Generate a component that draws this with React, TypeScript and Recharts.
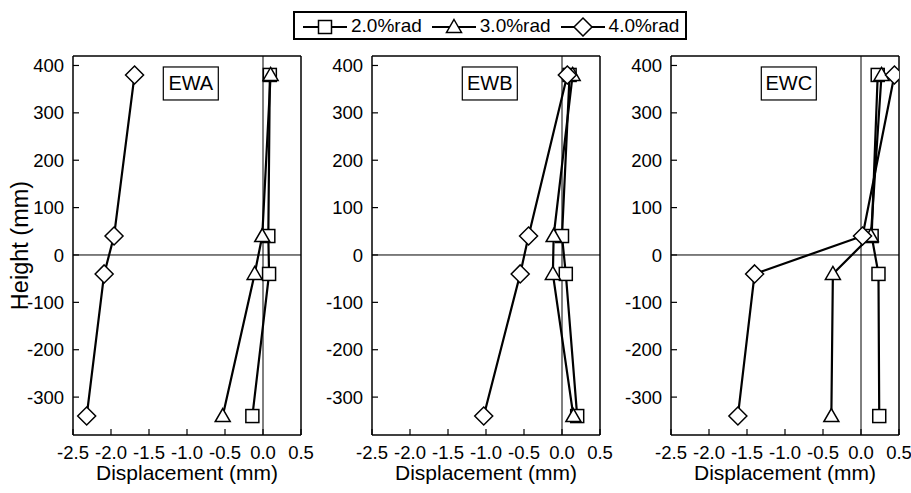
import React from 'react';
import { ScatterChart, Scatter, XAxis, YAxis, ReferenceLine, ReferenceDot } from 'recharts';

// heights of the measuring points (mm), top to bottom
const HEIGHTS = [380, 40, -40, -340];
const SPECIMENS = ['EWA', 'EWB', 'EWC'];
const SERIES = ['2.0%rad', '3.0%rad', '4.0%rad'];
const X_TICKS = [-2.5, -2, -1.5, -1, -0.5, 0, 0.5];
const Y_TICKS = [-300, -200, -100, 0, 100, 200, 300, 400];

// displacement (mm) at each height
const EWA_20 = [0.09, 0.07, 0.08, -0.14];
const EWA_30 = [0.1, -0.01, -0.11, -0.53];
const EWA_40 = [-1.69, -1.96, -2.09, -2.32];

const EWB_20 = [0.1, 0.0, 0.05, 0.2];
const EWB_30 = [0.14, -0.11, -0.12, 0.15];
const EWB_40 = [0.07, -0.44, -0.55, -1.03];

const EWC_20 = [0.22, 0.14, 0.23, 0.24];
const EWC_30 = [0.27, 0.13, -0.37, -0.39];
const EWC_40 = [0.44, 0.02, -1.4, -1.62];

const PANEL_DATA = [
  [EWA_20, EWA_30, EWA_40],
  [EWB_20, EWB_30, EWB_40],
  [EWC_20, EWC_30, EWC_40],
];

const FONT = '"Liberation Sans", Arial, sans-serif';
const PANEL_LEFT = [0, 299, 598];

const Square = ({ cx, cy }: any) => (
  <rect x={cx - 6.5} y={cy - 6.5} width={13} height={13} fill="#fff" stroke="#000" strokeWidth={1.5} />
);
const Triangle = ({ cx, cy }: any) => (
  <path d={`M${cx},${cy - 7.5}L${cx + 7.5},${cy + 5.5}L${cx - 7.5},${cy + 5.5}Z`} fill="#fff" stroke="#000" strokeWidth={1.5} />
);
const Diamond = ({ cx, cy }: any) => (
  <path d={`M${cx},${cy - 9}L${cx + 9},${cy}L${cx},${cy + 9}L${cx - 9},${cy}Z`} fill="#fff" stroke="#000" strokeWidth={1.5} />
);
const SHAPES = [Square, Triangle, Diamond];

const toPoints = (vals: number[]) => HEIGHTS.map((h, i) => ({ x: vals[i], y: h }));

const Panel = ({ idx }: { idx: number }) => {
  const name = SPECIMENS[idx];
  const tickStyle = { fontSize: 18.5, fill: '#000', fontFamily: FONT };
  const axisLine = { stroke: '#000', strokeWidth: 1.5 };
  const tickLine = { stroke: '#000', strokeWidth: 1.2 };
  return (
    <div style={{ position: 'absolute', left: PANEL_LEFT[idx], top: 0 }}>
      <ScatterChart width={322} height={493} margin={{ top: 55, right: 20, left: 10, bottom: 3 }}>
        <XAxis
          type="number"
          dataKey="x"
          domain={[-2.5, 0.5]}
          ticks={X_TICKS}
          interval={0}
          allowDataOverflow
          tickFormatter={(v: number) => v.toFixed(1)}
          tick={tickStyle}
          tickSize={-6}
          tickMargin={17}
          axisLine={axisLine}
          tickLine={tickLine}
          height={55}
          label={{ value: 'Displacement (mm)', position: 'insideBottom', offset: 10, fontSize: 21, fill: '#000', fontFamily: FONT }}
        />
        <XAxis
          xAxisId="top"
          orientation="top"
          type="number"
          domain={[-2.5, 0.5]}
          ticks={X_TICKS}
          interval={0}
          allowDataOverflow
          tick={false}
          tickSize={-6}
          axisLine={axisLine}
          tickLine={tickLine}
          height={1}
        />
        <YAxis
          type="number"
          dataKey="y"
          domain={[-380, 420]}
          ticks={Y_TICKS}
          interval={0}
          allowDataOverflow
          tick={tickStyle}
          tickSize={-6}
          tickMargin={15}
          axisLine={axisLine}
          tickLine={tickLine}
          width={63}
          label={
            idx === 0
              ? { value: 'Height (mm)', angle: -90, position: 'insideLeft', offset: 10, fontSize: 23.5, fill: '#000', fontFamily: FONT, style: { textAnchor: 'middle' } }
              : undefined
          }
        />
        <YAxis
          yAxisId="right"
          orientation="right"
          type="number"
          domain={[-380, 420]}
          ticks={Y_TICKS}
          interval={0}
          allowDataOverflow
          tick={false}
          tickSize={-6}
          axisLine={axisLine}
          tickLine={tickLine}
          width={1}
        />
        <ReferenceLine x={0} stroke="#000" strokeWidth={1} />
        <ReferenceLine y={0} stroke="#000" strokeWidth={1} />
        {PANEL_DATA[idx].map((vals, s) => (
          <Scatter
            key={SERIES[s]}
            name={SERIES[s]}
            data={toPoints(vals)}
            line={{ stroke: '#000', strokeWidth: 2.2 }}
            lineType="joint"
            shape={SHAPES[s]}
            isAnimationActive={false}
          />
        ))}
        <ReferenceDot
          x={-0.95}
          y={362}
          shape={({ cx, cy }: any) => (
            <g>
              <rect x={cx - 27.5} y={cy - 16.5} width={55} height={33} fill="#fff" stroke="#000" strokeWidth={1.2} />
              <text x={cx} y={cy + 7} textAnchor="middle" fontSize={20} fontFamily={FONT} fill="#000">
                {name}
              </text>
            </g>
          )}
        />
      </ScatterChart>
    </div>
  );
};

const LegendBox = () => (
  <div
    style={{
      position: 'absolute',
      left: 293,
      top: 11,
      width: 382,
      height: 25,
      border: '2px solid #000',
      background: '#fff',
      display: 'flex',
      alignItems: 'center',
      paddingLeft: 8,
      fontFamily: FONT,
      fontSize: 19,
      boxSizing: 'content-box',
    }}
  >
    {SERIES.map((s, i) => {
      const Shape = SHAPES[i];
      return (
        <div key={s} style={{ display: 'flex', alignItems: 'center', marginRight: i < SERIES.length - 1 ? 10 : 0 }}>
          <svg width={44} height={22} style={{ marginRight: 4 }}>
            <line x1={0} y1={12} x2={44} y2={12} stroke="#000" strokeWidth={2} />
            <Shape cx={22} cy={12} />
          </svg>
          <span>{s}</span>
        </div>
      );
    })}
  </div>
);

export default function App() {
  return (
    <div style={{ position: 'absolute', left: 0, top: 0, width: 911, height: 493, background: '#fff', fontFamily: FONT }}>
      {SPECIMENS.map((_, i) => (
        <Panel key={i} idx={i} />
      ))}
      <LegendBox />
    </div>
  );
}
